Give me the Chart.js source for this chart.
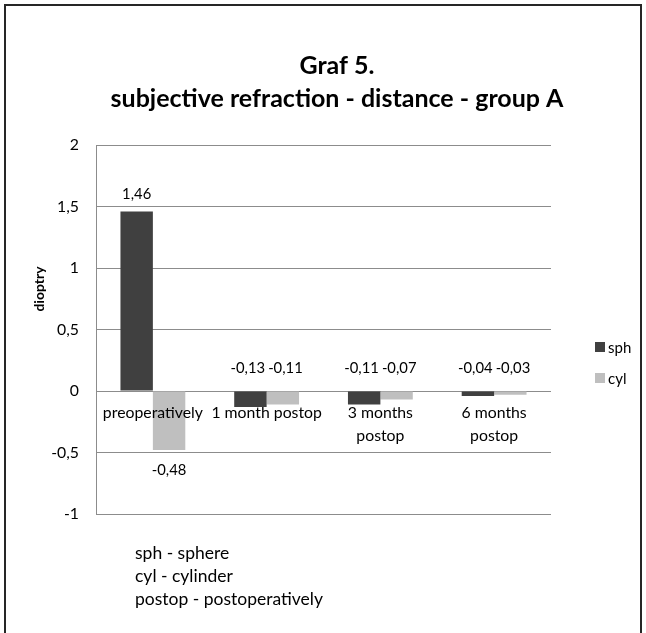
<!DOCTYPE html>
<html>
<head>
<meta charset="utf-8">
<script src="https://cdn.jsdelivr.net/npm/chart.js@4.4.0/dist/chart.umd.min.js"></script>
<style>
  body { margin: 0; background: #fff; font-family: Lato, sans-serif; }
  #wrap { position: relative; width: 646px; height: 633px; overflow: hidden; }
  #frame { position: absolute; left: 4px; top: 4px; width: 638px; height: 660px;
           border: 2px solid #262626; box-sizing: border-box; }
  #legend { position: absolute; left: 595px; top: 342px; font-size: 15px; color: #000; }
  #legend div { height: 31px; display: flex; align-items: flex-start; }
  #legend span.sw { display: inline-block; width: 10px; height: 10px; margin-right: 3px; }
  #legend span.tx { line-height: 11px; }
  #notes { position: absolute; left: 135px; top: 541px; font-size: 17.5px; line-height: 23px; color: #000; }
</style>
</head>
<body>
<div id="wrap">
  <canvas id="chart" width="646" height="633"></canvas>
  <div id="frame"></div>
  <div id="legend"></div>
  <div id="notes">sph - sphere<br>cyl - cylinder<br>postop - postoperatively</div>
</div>
<script>
const categories = ["preoperatively", "1 month postop", ["3 months", "postop"], ["6 months", "postop"]];
const sph = [1.46, -0.13, -0.11, -0.04];
const cyl = [-0.48, -0.11, -0.07, -0.03];
const seriesNames = ["sph", "cyl"];
const seriesColors = ["#404040", "#bfbfbf"];
const yTicks = [-1, -0.5, 0, 0.5, 1, 1.5, 2];
const yTitle = "dioptry";

const fmt = v => String(v).replace(".", ",");

// value labels, Excel style; labels of one group that collide get pushed apart
const valueLabels = {
    id: "valueLabels",
    afterDatasetsDraw(chart) {
        const ctx = chart.ctx;
        const zero = chart.scales.y.getPixelForValue(0);
        ctx.save();
        ctx.font = "14.8px Lato";
        ctx.fillStyle = "#000";
        ctx.textAlign = "center";
        ctx.textBaseline = "middle";
        const groups = [];
        chart.data.datasets.forEach((ds, i) => {
            chart.getDatasetMeta(i).data.forEach((bar, j) => {
                const v = ds.data[j];
                let y;
                if (v >= 0) y = bar.y - 17;
                else if (bar.y - zero > 40) y = bar.y + 20;
                else y = zero - 23;
                const t = fmt(v);
                (groups[j] = groups[j] || []).push({ t, x: bar.x, y, w: ctx.measureText(t).width });
            });
        });
        groups.forEach(g => {
            const [a, b] = g;
            if (a && b && Math.abs(a.y - b.y) < 10) {
                const over = (a.x + a.w / 2 + 3) - (b.x - b.w / 2);
                if (over > 0) { a.x -= over / 2; b.x += over / 2; }
            }
            g.forEach(l => ctx.fillText(l.t, l.x, l.y));
        });
        ctx.restore();
    }
};

// rotated y axis title, placed as in the original (above the middle)
const axisTitle = {
    id: "axisTitle",
    afterDraw(chart) {
        const ctx = chart.ctx;
        ctx.save();
        ctx.translate(39, 289);
        ctx.rotate(-Math.PI / 2);
        ctx.font = "bold 14px Lato";
        ctx.fillStyle = "#000";
        ctx.textAlign = "center";
        ctx.textBaseline = "middle";
        ctx.fillText(yTitle, 0, 0);
        ctx.restore();
    }
};

const ctx = document.getElementById("chart").getContext("2d");
new Chart(ctx, {
    type: "bar",
    data: {
        labels: categories,
        datasets: [
            { label: seriesNames[0], data: sph, backgroundColor: seriesColors[0] },
            { label: seriesNames[1], data: cyl, backgroundColor: seriesColors[1] }
        ]
    },
    options: {
        responsive: false,
        animation: false,
        categoryPercentage: 0.57,
        barPercentage: 1,
        layout: { padding: { top: 0, left: 28, right: 0, bottom: 119 } },
        plugins: {
            legend: { display: false },
            tooltip: { enabled: false },
            title: {
                display: true,
                text: ["Graf 5.", "subjective refraction - distance - group A"],
                font: { family: "Lato", size: 25, weight: "bold", lineHeight: 1.32 },
                color: "#000",
                padding: { top: 49, bottom: 30 }
            }
        },
        scales: {
            y: {
                min: -1, max: 2,
                afterBuildTicks: s => { s.ticks = yTicks.map(v => ({ value: v })); },
                afterFit: s => { s.width = 68; },
                ticks: {
                    color: "#000",
                    font: { family: "Lato", size: 15.8 },
                    padding: 17,
                    callback: v => fmt(v)
                },
                grid: { color: "#8c8c8c", drawTicks: false },
                border: { color: "#8c8c8c" }
            },
            // empty right box that keeps room for the legend
            legendSpace: {
                type: "linear",
                axis: "y",
                position: "right",
                afterFit: s => { s.width = 95; },
                ticks: { display: false },
                grid: { display: false },
                border: { display: false }
            },
            x: {
                position: { y: 0 },
                grid: { display: false, drawTicks: false },
                border: { display: false },
                ticks: {
                    z: 1, // category names over the bars, as in the original
                    color: "#000",
                    font: { family: "Lato", size: 15.8, lineHeight: 1.47 },
                    padding: 10,
                    maxRotation: 0,
                    autoSkip: false
                }
            }
        }
    },
    plugins: [valueLabels, axisTitle]
});

// legend
const lg = document.getElementById("legend");
seriesNames.forEach((n, i) => {
    const d = document.createElement("div");
    d.innerHTML = `<span class="sw" style="background:${seriesColors[i]}"></span><span class="tx">${n}</span>`;
    lg.appendChild(d);
});
</script>
</body>
</html>
